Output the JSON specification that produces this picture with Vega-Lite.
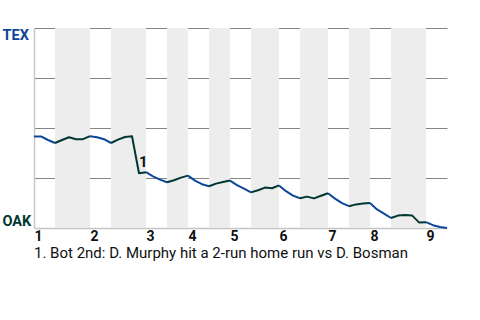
{
  "$schema": "https://vega.github.io/schema/vega-lite/v6.json",
  "autosize": "none",
  "padding": {"left": 34, "top": 28, "right": 33, "bottom": 92},
  "width": 413,
  "height": 200,
  "background": "white",
  "config": {"view": {"stroke": null}, "font": "Roboto"},
  "title": {
    "text": "1. Bot 2nd: D. Murphy hit a 2-run home run vs D. Bosman",
    "orient": "bottom",
    "anchor": "start",
    "frame": "group",
    "fontSize": 15,
    "fontWeight": "normal",
    "font": "Roboto",
    "color": "#111111",
    "offset": 3
  },
  "datasets": {
    "bands": [
      {"s": 3, "e": 8}, {"s": 11, "e": 16}, {"s": 19, "e": 22}, {"s": 25, "e": 28},
      {"s": 31, "e": 35}, {"s": 38, "e": 42}, {"s": 45, "e": 48}, {"s": 51, "e": 56}
    ],
    "wp": [
      {"h": "T1", "t": "TEX", "p": 0, "wp": 45.8},
      {"h": "T1", "t": "TEX", "p": 1, "wp": 45.8},
      {"h": "T1", "t": "TEX", "p": 2, "wp": 44.0},
      {"h": "T1", "t": "TEX", "p": 3, "wp": 42.5},
      {"h": "B1", "t": "OAK", "p": 3, "wp": 42.5},
      {"h": "B1", "t": "OAK", "p": 4, "wp": 44.0},
      {"h": "B1", "t": "OAK", "p": 5, "wp": 45.4},
      {"h": "B1", "t": "OAK", "p": 6, "wp": 44.4},
      {"h": "B1", "t": "OAK", "p": 7, "wp": 44.4},
      {"h": "B1", "t": "OAK", "p": 8, "wp": 45.9},
      {"h": "T2", "t": "TEX", "p": 8, "wp": 45.9},
      {"h": "T2", "t": "TEX", "p": 9, "wp": 45.4},
      {"h": "T2", "t": "TEX", "p": 10, "wp": 44.4},
      {"h": "T2", "t": "TEX", "p": 11, "wp": 42.5},
      {"h": "B2", "t": "OAK", "p": 11, "wp": 42.5},
      {"h": "B2", "t": "OAK", "p": 12, "wp": 44.2},
      {"h": "B2", "t": "OAK", "p": 13, "wp": 45.5},
      {"h": "B2", "t": "OAK", "p": 14, "wp": 45.9},
      {"h": "B2", "t": "OAK", "p": 15, "wp": 27.4},
      {"h": "B2", "t": "OAK", "p": 16, "wp": 27.9},
      {"h": "T3", "t": "TEX", "p": 16, "wp": 27.9},
      {"h": "T3", "t": "TEX", "p": 17, "wp": 25.8},
      {"h": "T3", "t": "TEX", "p": 18, "wp": 24.2},
      {"h": "T3", "t": "TEX", "p": 19, "wp": 22.9},
      {"h": "B3", "t": "OAK", "p": 19, "wp": 22.9},
      {"h": "B3", "t": "OAK", "p": 20, "wp": 23.9},
      {"h": "B3", "t": "OAK", "p": 21, "wp": 25.2},
      {"h": "B3", "t": "OAK", "p": 22, "wp": 26.2},
      {"h": "T4", "t": "TEX", "p": 22, "wp": 26.2},
      {"h": "T4", "t": "TEX", "p": 23, "wp": 23.7},
      {"h": "T4", "t": "TEX", "p": 24, "wp": 21.9},
      {"h": "T4", "t": "TEX", "p": 25, "wp": 20.9},
      {"h": "B4", "t": "OAK", "p": 25, "wp": 20.9},
      {"h": "B4", "t": "OAK", "p": 26, "wp": 22.2},
      {"h": "B4", "t": "OAK", "p": 27, "wp": 23.0},
      {"h": "B4", "t": "OAK", "p": 28, "wp": 23.7},
      {"h": "T5", "t": "TEX", "p": 28, "wp": 23.7},
      {"h": "T5", "t": "TEX", "p": 29, "wp": 21.4},
      {"h": "T5", "t": "TEX", "p": 30, "wp": 19.7},
      {"h": "T5", "t": "TEX", "p": 31, "wp": 17.8},
      {"h": "B5", "t": "OAK", "p": 31, "wp": 17.8},
      {"h": "B5", "t": "OAK", "p": 32, "wp": 18.9},
      {"h": "B5", "t": "OAK", "p": 33, "wp": 20.2},
      {"h": "B5", "t": "OAK", "p": 34, "wp": 19.9},
      {"h": "B5", "t": "OAK", "p": 35, "wp": 21.3},
      {"h": "T6", "t": "TEX", "p": 35, "wp": 21.3},
      {"h": "T6", "t": "TEX", "p": 36, "wp": 18.4},
      {"h": "T6", "t": "TEX", "p": 37, "wp": 16.2},
      {"h": "T6", "t": "TEX", "p": 38, "wp": 14.9},
      {"h": "B6", "t": "OAK", "p": 38, "wp": 14.9},
      {"h": "B6", "t": "OAK", "p": 39, "wp": 15.7},
      {"h": "B6", "t": "OAK", "p": 40, "wp": 14.8},
      {"h": "B6", "t": "OAK", "p": 41, "wp": 16.1},
      {"h": "B6", "t": "OAK", "p": 42, "wp": 17.4},
      {"h": "T7", "t": "TEX", "p": 42, "wp": 17.4},
      {"h": "T7", "t": "TEX", "p": 43, "wp": 14.7},
      {"h": "T7", "t": "TEX", "p": 44, "wp": 12.4},
      {"h": "T7", "t": "TEX", "p": 45, "wp": 10.9},
      {"h": "B7", "t": "OAK", "p": 45, "wp": 10.9},
      {"h": "B7", "t": "OAK", "p": 46, "wp": 11.8},
      {"h": "B7", "t": "OAK", "p": 47, "wp": 12.2},
      {"h": "B7", "t": "OAK", "p": 48, "wp": 12.5},
      {"h": "T8", "t": "TEX", "p": 48, "wp": 12.5},
      {"h": "T8", "t": "TEX", "p": 49, "wp": 9.3},
      {"h": "T8", "t": "TEX", "p": 50, "wp": 7.2},
      {"h": "T8", "t": "TEX", "p": 51, "wp": 5.0},
      {"h": "B8", "t": "OAK", "p": 51, "wp": 5.0},
      {"h": "B8", "t": "OAK", "p": 52, "wp": 6.2},
      {"h": "B8", "t": "OAK", "p": 53, "wp": 6.5},
      {"h": "B8", "t": "OAK", "p": 54, "wp": 6.3},
      {"h": "B8", "t": "OAK", "p": 55, "wp": 2.8},
      {"h": "B8", "t": "OAK", "p": 56, "wp": 2.9},
      {"h": "T9", "t": "TEX", "p": 56, "wp": 2.9},
      {"h": "T9", "t": "TEX", "p": 57, "wp": 1.4},
      {"h": "T9", "t": "TEX", "p": 58, "wp": 0.5},
      {"h": "T9", "t": "TEX", "p": 59, "wp": 0.0}
    ],
    "notes": [{"p": 15, "wp": 27.4, "label": "1"}]
  },
  "layer": [
    {
      "data": {"name": "bands"},
      "mark": {"type": "rect", "fill": "#ededed"},
      "encoding": {
        "x": {"field": "s", "type": "quantitative", "scale": {"domain": [0, 59], "nice": false, "zero": false}},
        "x2": {"field": "e"}
      }
    },
    {
      "data": {"name": "wp"},
      "mark": {"type": "line", "strokeWidth": 2, "strokeJoin": "round"},
      "encoding": {
        "x": {
          "field": "p", "type": "quantitative",
          "scale": {"domain": [0, 59], "nice": false, "zero": false},
          "axis": {
            "title": null,
            "values": [0, 8, 16, 22, 28, 35, 42, 48, 56],
            "labelExpr": "indexof([0,8,16,22,28,35,42,48,56], datum.value) + 1",
            "labelAlign": "left",
            "labelBaseline": "top",
            "labelPadding": 1,
            "labelFontSize": 14,
            "labelFontWeight": "bold",
            "labelColor": "#111111",
            "labelFont": "Roboto",
            "ticks": false,
            "grid": false,
            "domainColor": "#c4c4c4",
            "domainWidth": 1.5,
            "labelOverlap": false
          }
        },
        "y": {
          "field": "wp", "type": "quantitative",
          "scale": {"domain": [0, 100], "nice": false},
          "axis": {
            "title": null,
            "values": [0, 25, 50, 75, 100],
            "labelExpr": "datum.value == 100 ? 'TEX' : (datum.value == 0 ? 'OAK' : '')",
            "labelColor": {"condition": {"test": "datum.value == 100", "value": "#0e4596"}, "value": "#003831"},
            "labelBaseline": {"condition": {"test": "datum.value == 100", "value": "top"}, "value": "bottom"},
            "labelAlign": "left",
            "labelFontSize": 14.5,
            "labelFontWeight": "bold",
            "labelFont": "Roboto",
            "labelPadding": 32,
            "ticks": false,
            "grid": true,
            "gridColor": "#858585",
            "gridWidth": 1.2,
            "gridOpacity": {"condition": {"test": "datum.value == 0", "value": 0}, "value": 1},
            "domainColor": "#c8c8c8",
            "domainWidth": 1.5,
            "labelOverlap": false
          }
        },
        "color": {
          "field": "t", "type": "nominal",
          "scale": {"domain": ["TEX", "OAK"], "range": ["#0c479c", "#003831"]},
          "legend": null
        },
        "detail": {"field": "h"}
      }
    },
    {
      "data": {"name": "notes"},
      "mark": {"type": "text", "align": "left", "baseline": "alphabetic", "dx": 0, "dy": -6, "fontSize": 15, "fontWeight": "bold", "font": "Roboto", "color": "#111111"},
      "encoding": {
        "x": {"field": "p", "type": "quantitative"},
        "y": {"field": "wp", "type": "quantitative"},
        "text": {"field": "label"}
      }
    }
  ]
}
